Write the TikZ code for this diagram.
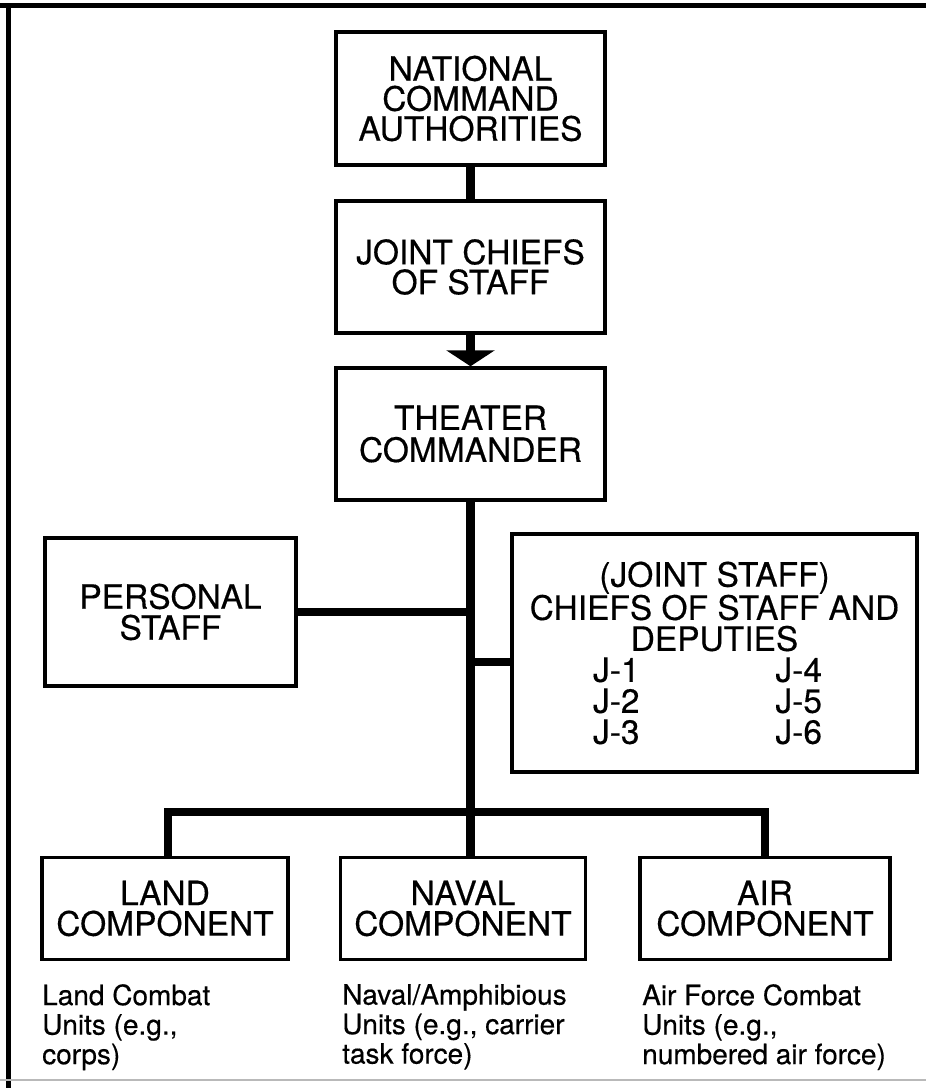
\documentclass[tikz,border=0pt]{standalone}
\usepackage{fontspec}
\setmainfont{TeX Gyre Heros}[FakeBold=0.4]
\usetikzlibrary{arrows.meta}
\begin{document}
\begin{tikzpicture}[x=1pt,y=-1pt,
  box/.style={draw,line width=3.5pt,inner sep=0pt,align=center,font=\fontsize{33.5}{30}\selectfont},
  link/.style={line width=8.5pt,line join=miter},
  note/.style={anchor=north west,inner sep=0pt,align=left,font=\fontsize{28}{29.5}\selectfont}]
\useasboundingbox (0,0) rectangle (926,1088);
% frame
\draw[line width=5pt] (0,5) -- (926,5);
\draw[line width=5pt] (8,3) -- (8,1088);
\draw[gray!55,line width=1.5pt] (0,1080) -- (926,1080);
% boxes
\node[box,minimum width=269pt,minimum height=133pt] (nca) at (470.5,98.5) {NATIONAL\\COMMAND\\AUTHORITIES};
\node[box,minimum width=269pt,minimum height=132pt] (jcs) at (470.5,267) {JOINT CHIEFS\\OF STAFF};
\node[box,minimum width=269pt,minimum height=132pt,font=\fontsize{33.5}{32}\selectfont] (thc) at (470.5,434) {THEATER\\COMMANDER};
\node[box,minimum width=251pt,minimum height=148pt,font=\fontsize{33.5}{31}\selectfont] (pers) at (170.5,612) {PERSONAL\\STAFF};
\node[box,minimum width=405pt,minimum height=238pt,font=\fontsize{33.5}{31}\selectfont] (js) at (714.5,653)
  {(JOINT STAFF)\\CHIEFS OF STAFF AND\\DEPUTIES\\\makebox[229pt]{J-1\hfill J-4}\kern14pt\\\makebox[229pt]{J-2\hfill J-5}\kern14pt\\\makebox[229pt]{J-3\hfill J-6}\kern14pt};
\node[box,minimum width=246pt,minimum height=102pt,font=\fontsize{33.5}{30.5}\selectfont] (land) at (165,908.5) {LAND\\COMPONENT};
\node[box,minimum width=245pt,minimum height=102pt,font=\fontsize{33.5}{30.5}\selectfont] (naval) at (463,908.5) {NAVAL\\COMPONENT};
\node[box,minimum width=250pt,minimum height=102pt,font=\fontsize{33.5}{30.5}\selectfont] (air) at (765,908.5) {AIR\\COMPONENT};
% notes
\node[note] (landn) at (42,984) {Land Combat\\Units (e.g.,\\corps)};
\node[note] (navaln) at (342,984) {Naval/Amphibious\\Units (e.g., carrier\\task force)};
\node[note] (airn) at (642,984) {Air Force Combat\\Units (e.g.,\\numbered air force)};
% connectors
\draw[link] (nca.south) -- (jcs.north);
\draw[link,-{Triangle[width=48pt,length=16pt]}] (jcs.south) -- (thc.north);
\draw[link] (thc.south) -- (thc.south |- naval.north);
\draw[link] (pers.east) -- (pers.east -| thc.south);
\coordinate (jsj) at (470.5,662);
\draw[link] (jsj) -- (jsj -| js.west);
\coordinate (busL) at (168,812);
\draw[link] (land.north -| busL) -- (busL) -- (busL -| air.north) -- (air.north);
\end{tikzpicture}
\end{document}
